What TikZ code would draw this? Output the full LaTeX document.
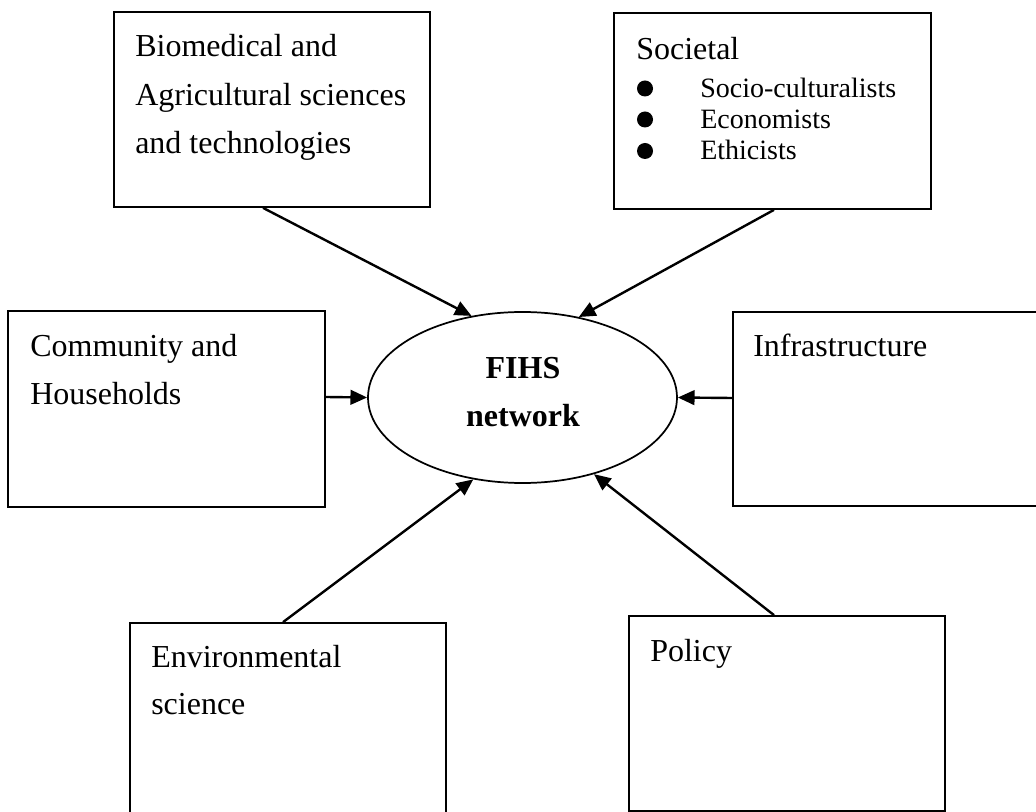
\documentclass[tikz,border=0pt]{standalone}
\usepackage{fontspec}
\setmainfont{Liberation Serif}
\usetikzlibrary{shapes.geometric,arrows.meta,calc}
\begin{document}
\begin{tikzpicture}[x=0.75pt,y=-0.75pt,
  box/.style={draw,line width=1.3pt,rectangle,inner sep=0pt,minimum width=#1},
  txt/.style={inner sep=0pt,anchor=base west,font=\fontsize{24}{36}\selectfont},
  itm/.style={inner sep=0pt,anchor=base west,font=\fontsize{21}{30}\selectfont},
  ctr/.style={inner sep=0pt,anchor=base,font=\fontsize{24}{36}\selectfont\bfseries},
  arr/.style={line width=1.8pt,-{Triangle[length=12.5pt,width=11pt]}},
  dot/.style={circle,fill=black,inner sep=0pt,minimum size=12pt}]
\useasboundingbox (0,0) rectangle (1036,812);
\clip (0,0) rectangle (1036,812);
\fill[white] (0,0) rectangle (1036,812);
% boxes
\node[box=237pt,minimum height=146.25pt] (bio) at (272,109.5) {};
\node[box=237.75pt,minimum height=147pt] (soc) at (772.5,111) {};
\node[box=237.75pt,minimum height=147pt] (com) at (166.5,409) {};
\node[box=234pt,minimum height=145.5pt] (inf) at (889,409) {};
\node[box=237pt,minimum height=155.25pt] (env) at (288,726.5) {};
\node[box=237pt,minimum height=146.25pt] (pol) at (787,713.5) {};
\node[draw,ellipse,line width=1.3pt,inner sep=0pt,minimum width=231.75pt,minimum height=128.25pt] (fihs) at (522.5,397.5) {};
% texts
\node[txt] (bio1) at (135,57) {Biomedical and};
\node[txt] (bio2) at (135,106) {Agricultural sciences};
\node[txt] (bio3) at (135,154) {and technologies};
\node[txt] (soc0) at (636,60) {Societal};
\node[dot] (d1) at (645,88.5) {};
\node[dot] (d2) at (645,119.5) {};
\node[dot] (d3) at (645,151) {};
\node[itm] (soc1) at (700,98) {Socio-culturalists};
\node[itm] (soc2) at (700,129) {Economists};
\node[itm] (soc3) at (700,160) {Ethicists};
\node[txt] (com1) at (30,357) {Community and};
\node[txt] (com2) at (30,405) {Households};
\node[txt] (inf1) at (753,357) {Infrastructure};
\node[txt] (env1) at (151,668) {Environmental};
\node[txt] (env2) at (151,715) {science};
\node[txt] (pol1) at (650,662) {Policy};
\node[ctr] (f1) at (523,379) {FIHS};
\node[ctr] (f2) at (523,427) {network};
% connectors
\draw[arr] ($(bio.south)+(-9,0)$) -- (fihs.122);
\draw[arr] ($(soc.south)+(1.5,0)$) -- (fihs.55);
\draw[arr] (com.east |- 0,397) -- (fihs.180);
\draw[arr] (inf.west |- 0,398) -- (fihs.0);
\draw[arr] ($(env.north)+(-5,0)$) -- (fihs.-121);
\draw[arr] ($(pol.north)+(-13,0)$) -- (fihs.-47);
\end{tikzpicture}
\end{document}
